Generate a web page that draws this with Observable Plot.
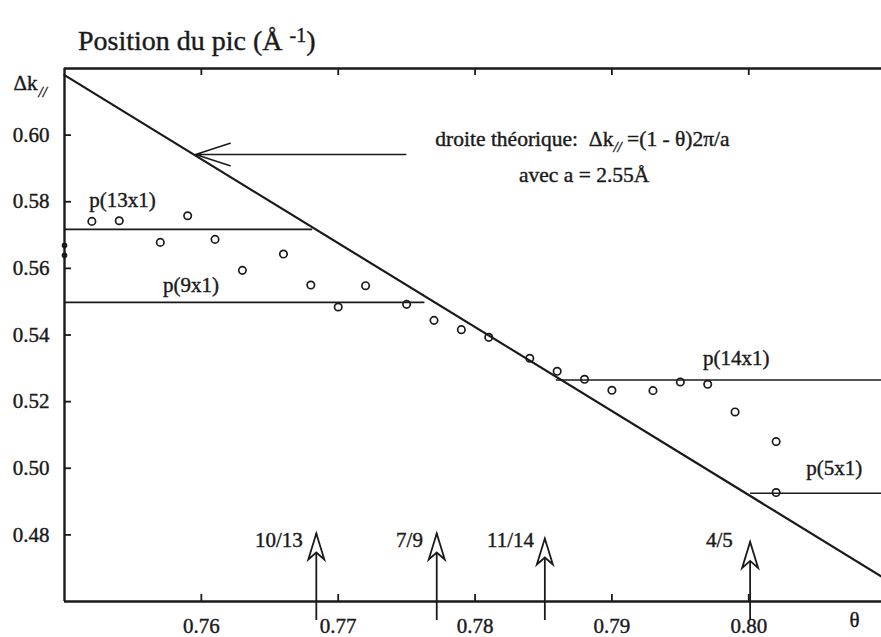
<!DOCTYPE html>
<html><head><meta charset="utf-8">
<script src="https://cdn.jsdelivr.net/npm/d3@7"></script>
<script src="https://cdn.jsdelivr.net/npm/@observablehq/plot@0.6"></script>
<style>
html,body{margin:0;padding:0;background:#fff;overflow:hidden}
#title{height:58px;box-sizing:border-box;padding-top:27px;padding-left:78px;font-family:"Liberation Serif",serif;font-size:28px;line-height:28px;color:#1a1a1a;white-space:nowrap;-webkit-text-stroke:0.4px #1a1a1a}
#title sup{font-size:20px;line-height:0;vertical-align:8px}
#chart svg{display:block}
#chart svg text{stroke:#1a1a1a;stroke-width:0.4px}
</style></head><body>
<div id="title">Position du pic (Å <sup>-1</sup>)</div>
<div id="chart"></div>
<script>
// measured points (θ, Δk//)
const theta = [0.752,0.754,0.757,0.759,0.761,0.763,0.766,0.768,0.770,0.772,0.775,0.777,0.779,0.781,0.784,0.786,0.788,0.790,0.793,0.795,0.797,0.799,0.802,0.802];
const dk    = [0.5741,0.5743,0.5678,0.5758,0.5687,0.5594,0.5643,0.5550,0.5484,0.5548,0.5492,0.5444,0.5416,0.5393,0.5330,0.5291,0.5267,0.5234,0.5233,0.5259,0.5252,0.5169,0.5080,0.4927];
// filled dots on the left axis
const axisDotDk = [0.5669, 0.5639];
// theoretical line endpoints
const lineTheta = [0.75, 0.8097];
const lineDk = [0.618, 0.4675];
// plateaus
const plateauNames = ["p(13x1)","p(9x1)","p(14x1)","p(5x1)"];
const plateauDk = [0.5717, 0.5498, 0.5265, 0.4925];
const plateauStart = [0.75, 0.75, 0.7859, 0.8001];
const plateauEnd = [0.7681, 0.7763, 0.8097, 0.8097];
const plateauLabelTheta = [0.7518, 0.7572, 0.79665, 0.8042];
const plateauLabelDk = [0.5804, 0.5549, 0.5329, 0.4999];
// commensurate fractions (arrows)
const fracNames = ["10/13","7/9","11/14","4/5"];
const fracTheta = [0.7684, 0.7772, 0.7851, 0.8001];
const fracTip = [0.4804, 0.4804, 0.4789, 0.4779];
const fracLabelTheta = [0.76741, 0.77619, 0.78431, 0.79884];
const fracLabelDk = [0.4784, 0.4784, 0.4784, 0.4784];
// annotation
const noteLines = ["droite théorique:  Δk// =(1 - θ)2π/a", "avec a = 2.55Å"];
const noteTheta = [0.7771, 0.78321];
const noteDk = [0.5987, 0.5879];
const pointerTheta = [0.77494, 0.75958];
const pointerDk = [0.5942, 0.5942];
// axes
const xDomain = [0.75, 0.8097];
const yDomain = [0.46, 0.62];
const xTicks = [0.76, 0.77, 0.78, 0.79, 0.80];
const yTicks = [0.48, 0.50, 0.52, 0.54, 0.56, 0.58, 0.60];

const points = theta.map((t, i) => ({theta: t, dk: dk[i]}));
const axisDots = axisDotDk.map(v => ({theta: xDomain[0], dk: v}));
const theory = lineTheta.map((t, i) => ({theta: t, dk: lineDk[i]}));
const plateaus = plateauNames.map((n, i) => ({name: n, dk: plateauDk[i], x1: plateauStart[i], x2: plateauEnd[i], lx: plateauLabelTheta[i], ly: plateauLabelDk[i]}));
const fracs = fracNames.map((n, i) => ({name: n, theta: fracTheta[i], tip: fracTip[i], lx: fracLabelTheta[i], ly: fracLabelDk[i]}));
const notes = noteLines.map((s, i) => ({s, theta: noteTheta[i], dk: noteDk[i]}));
const pointer = [{x1: pointerTheta[0], x2: pointerTheta[1], y1: pointerDk[0], y2: pointerDk[1]}];

const W = 881, H = 579, mT = 10, mB = 36, mL = 64, mR = 0;
const frameH = H - mT - mB, frameW = W - mL - mR, tickLen = 7;
const ink = "#1a1a1a";
const arrowHead = {draw(ctx) { ctx.moveTo(0, 0); ctx.lineTo(8, 26); ctx.lineTo(0, 19); ctx.lineTo(-8, 26); ctx.closePath(); }};

const plot = Plot.plot({
  width: W, height: H, marginTop: mT, marginBottom: mB, marginLeft: mL, marginRight: mR,
  style: {fontFamily: "'Liberation Serif', serif", fontSize: "21px", color: ink, background: "#fff", overflow: "visible"},
  x: {domain: xDomain},
  y: {domain: yDomain},
  marks: [
    Plot.axisX({ticks: xTicks, tickFormat: d3.format(".2f"), tickSize: 0, tickPadding: 17, label: null, fontSize: 21}),
    Plot.axisY({ticks: yTicks, tickFormat: d3.format(".2f"), tickSize: 0, tickPadding: 15, label: null, fontSize: 21}),
    Plot.tickX(xTicks, {x: d => d, insetTop: frameH - tickLen, stroke: ink, strokeWidth: 1.8}),
    Plot.tickX(xTicks, {x: d => d, insetBottom: frameH - tickLen, stroke: ink, strokeWidth: 1.8}),
    Plot.tickY(yTicks, {y: d => d, insetRight: frameW - tickLen, stroke: ink, strokeWidth: 1.8}),
    Plot.ruleY([yDomain[1]], {stroke: ink, strokeWidth: 2.4}),
    Plot.ruleY([yDomain[0]], {stroke: ink, strokeWidth: 2.4}),
    Plot.ruleX([xDomain[0]], {stroke: ink, strokeWidth: 2.4}),
    Plot.line(theory, {x: "theta", y: "dk", stroke: ink, strokeWidth: 2.2}),
    Plot.link(plateaus, {x1: "x1", x2: "x2", y1: "dk", y2: "dk", stroke: ink, strokeWidth: 1.6}),
    Plot.text(plateaus, {x: "lx", y: "ly", text: "name", textAnchor: "start", fill: ink, fontSize: 21}),
    Plot.dot(points, {x: "theta", y: "dk", r: 3.7, stroke: ink, strokeWidth: 1.7, fill: "none"}),
    Plot.dot(axisDots, {x: "theta", y: "dk", r: 2.8, fill: ink, stroke: "none"}),
    Plot.ruleX(fracs, {x: "theta", y1: d => yDomain[0], y2: "tip", insetTop: 19, stroke: ink, strokeWidth: 1.8}),
    Plot.dot(fracs, {x: "theta", y: "tip", symbol: arrowHead, r: 5, stroke: ink, strokeWidth: 1.8, fill: "#fff"}),
    Plot.text(fracs, {x: "lx", y: "ly", text: "name", textAnchor: "end", fill: ink, fontSize: 21}),
    Plot.text(notes, {x: "theta", y: "dk", text: "s", textAnchor: "start", fill: ink, fontSize: 21.5}),
    Plot.arrow(pointer, {x1: "x1", y1: "y1", x2: "x2", y2: "y2", headLength: 34, headAngle: 36, stroke: ink, strokeWidth: 1.6}),
    Plot.text(["Δk"], {frameAnchor: "top-left", dx: -51, dy: 7, textAnchor: "start", fill: ink, fontSize: 21}),
    Plot.text(["//"], {frameAnchor: "top-left", dx: -26, dy: 18, textAnchor: "start", fill: ink, fontSize: 15, fontStyle: "italic"}),
    Plot.text(["θ"], {frameAnchor: "bottom-right", dx: -22, dy: 25, fill: ink, fontSize: 21})
  ]
});
document.getElementById("chart").appendChild(plot);
// subscript in the annotation formula
d3.select(plot).selectAll("text").filter(function() { return this.textContent.startsWith("droite"); })
  .each(function() {
    const t = d3.select(this);
    t.text(null);
    t.append("tspan").text("droite théorique:  Δk");
    t.append("tspan").attr("dy", 6).attr("font-size", 15).attr("font-style", "italic").text("//");
    t.append("tspan").attr("dy", -6).text(" =(1 - θ)2π/a");
  });
</script>
</body></html>
